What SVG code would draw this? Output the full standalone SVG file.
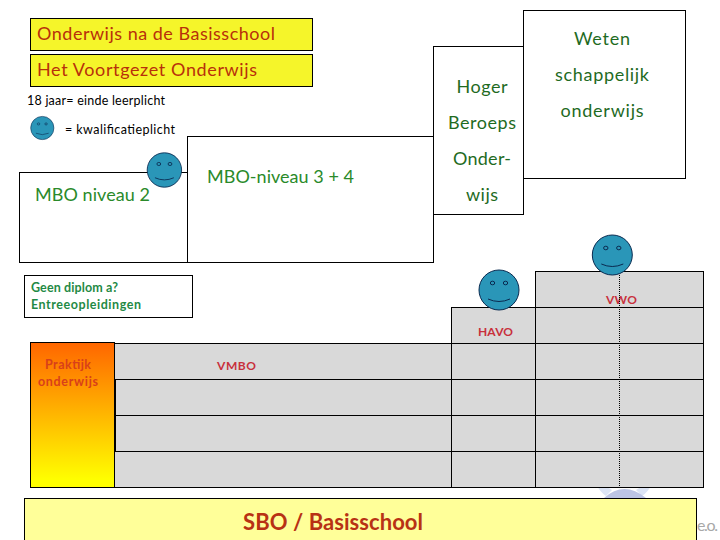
<svg xmlns="http://www.w3.org/2000/svg" width="720" height="540" viewBox="0 0 720 540">
<style>
text{font-family:"Lato","Open Sans","Liberation Sans",sans-serif}
.b{stroke:#000;stroke-width:1;fill:#fff}
.y{stroke:#000;stroke-width:1;fill:#f5f52a}
.g{stroke:#000;stroke-width:1;fill:#d9d9d9}
.t{fill:#b8300a;font-size:18px}
.n{fill:#000;font-size:12.5px}
.m{fill:#2a8a2a;font-size:18px}
.h{fill:#1f6b1f;font-size:18px;text-anchor:middle}
.s{fill:#c8303c;font-size:12px;font-weight:700}
.e{fill:#1f8a45;font-size:12.5px;font-weight:700}
.p{fill:#d8401a;font-size:12.5px;font-weight:700;text-anchor:middle}
.f{fill:#2a96b8;stroke:#0a2a50;stroke-width:1}
.l{fill:none;stroke:#0a2a50;stroke-width:1}
</style>
<defs>
<linearGradient id="pg" x1="0" y1="0" x2="0" y2="1"><stop offset="0" stop-color="#ff6600"/><stop offset=".95" stop-color="#ffff00"/></linearGradient>
<g id="smile"><circle class="f" r="20"/><ellipse class="l" cx="-6.5" cy="-7" rx="2.2" ry="1.8"/><ellipse class="l" cx="6.5" cy="-7" rx="2.2" ry="1.8"/><path class="l" d="M-11 9Q0 14 11 9"/></g>
</defs>
<g id="watermark">
<path d="M596 484Q600 492 606 496L612 490Q605 486 602 481Z" fill="#dce4f4"/>
<path d="M652 484Q648 492 642 496L636 490Q643 486 646 481Z" fill="#dce4f4"/>
<path d="M604 498Q624 480 646 498Z" fill="#bcc4e4"/>
<text x="697" y="531" font-size="16" fill="#a8a8a8" font-family="Liberation Serif" textLength="21">e.o.</text>
</g>
<g id="titel-1"><rect class="y" x="30.5" y="18.5" width="282" height="32"/><text class="t" x="37" y="40" textLength="238">Onderwijs na de Basisschool</text></g>
<g id="titel-2"><rect class="y" x="30.5" y="54.5" width="282" height="32"/><text class="t" x="37" y="76" textLength="220">Het Voortgezet Onderwijs</text></g>
<g id="leerplicht"><text class="n" x="27" y="105" textLength="138">18 jaar= einde leerplicht</text></g>
<g id="legenda"><use href="#smile" transform="translate(42.3 128) scale(.58)"/><text class="n" x="65" y="134" textLength="110">= kwalificatieplicht</text></g>
<g id="wo"><rect class="b" x="523.5" y="10.5" width="162" height="168"/><text class="h" x="602" y="45" textLength="56">Weten</text><text class="h" x="602" y="81" textLength="94">schappelijk</text><text class="h" x="602" y="117" textLength="83">onderwijs</text></g>
<g id="hbo"><rect class="b" x="433.5" y="46.5" width="90" height="168"/><text class="h" x="482" y="93" textLength="51">Hoger</text><text class="h" x="482" y="129" textLength="68">Beroeps</text><text class="h" x="482" y="165" textLength="58">Onder-</text><text class="h" x="482" y="201" textLength="32">wijs</text></g>
<g id="mbo-2"><rect class="b" x="19.5" y="172.5" width="168" height="90"/><text class="m" x="35" y="201" textLength="115">MBO niveau 2</text></g>
<g id="mbo-34"><rect class="b" x="187.5" y="136.5" width="246" height="126"/><text class="m" x="207" y="183" textLength="147">MBO-niveau 3 + 4</text></g>
<g id="geen-diploma"><rect class="b" x="24.5" y="275.5" width="168" height="42"/><text class="e" x="31" y="292" textLength="87">Geen diplom a?</text><text class="e" x="31" y="309" textLength="110">Entreeopleidingen</text></g>
<g id="vwo"><rect class="g" x="535.5" y="271.5" width="168" height="36"/><text class="s" x="606" y="304" textLength="31">VWO</text></g>
<g id="havo"><rect class="g" x="451.5" y="307.5" width="84" height="36"/><rect class="g" x="535.5" y="307.5" width="168" height="36"/><text class="s" x="478" y="336" textLength="35">HAVO</text></g>
<g id="vmbo">
<rect class="g" x="114.5" y="343.5" width="337" height="36"/><rect class="g" x="115.5" y="379.5" width="336" height="36"/><rect class="g" x="115.5" y="415.5" width="336" height="36"/><rect class="g" x="114.5" y="451.5" width="337" height="36"/>
<rect class="g" x="451.5" y="343.5" width="84" height="36"/><rect class="g" x="451.5" y="379.5" width="84" height="36"/><rect class="g" x="451.5" y="415.5" width="84" height="36"/><rect class="g" x="451.5" y="451.5" width="84" height="36"/>
<rect class="g" x="535.5" y="343.5" width="168" height="36"/><rect class="g" x="535.5" y="379.5" width="168" height="36"/><rect class="g" x="535.5" y="415.5" width="168" height="36"/><rect class="g" x="535.5" y="451.5" width="168" height="36"/>
<text class="s" x="217" y="370" textLength="39">VMBO</text></g>
<g id="connectors"><path d="M619.5 275V487" fill="none" stroke="#000" stroke-width="1" stroke-dasharray="1 1"/></g>
<g id="praktijk"><rect x="30.5" y="342.5" width="84" height="145" fill="url(#pg)" stroke="#000"/><text class="p" x="68" y="369" textLength="46">Praktijk</text><text class="p" x="68" y="386" textLength="60">onderwijs</text></g>
<g id="sbo"><rect x="24.5" y="498.5" width="672" height="50" fill="#ffff99" stroke="#000"/><text x="333" y="530" text-anchor="middle" font-size="22" font-weight="700" fill="#b83214" textLength="180">SBO / Basisschool</text></g>
<g id="smiley-mbo"><use href="#smile" transform="translate(164.4 170) scale(.86)"/></g>
<g id="smiley-havo"><use href="#smile" transform="translate(499 290)"/></g>
<g id="smiley-vwo"><use href="#smile" transform="translate(612.3 255)"/></g>
</svg>
